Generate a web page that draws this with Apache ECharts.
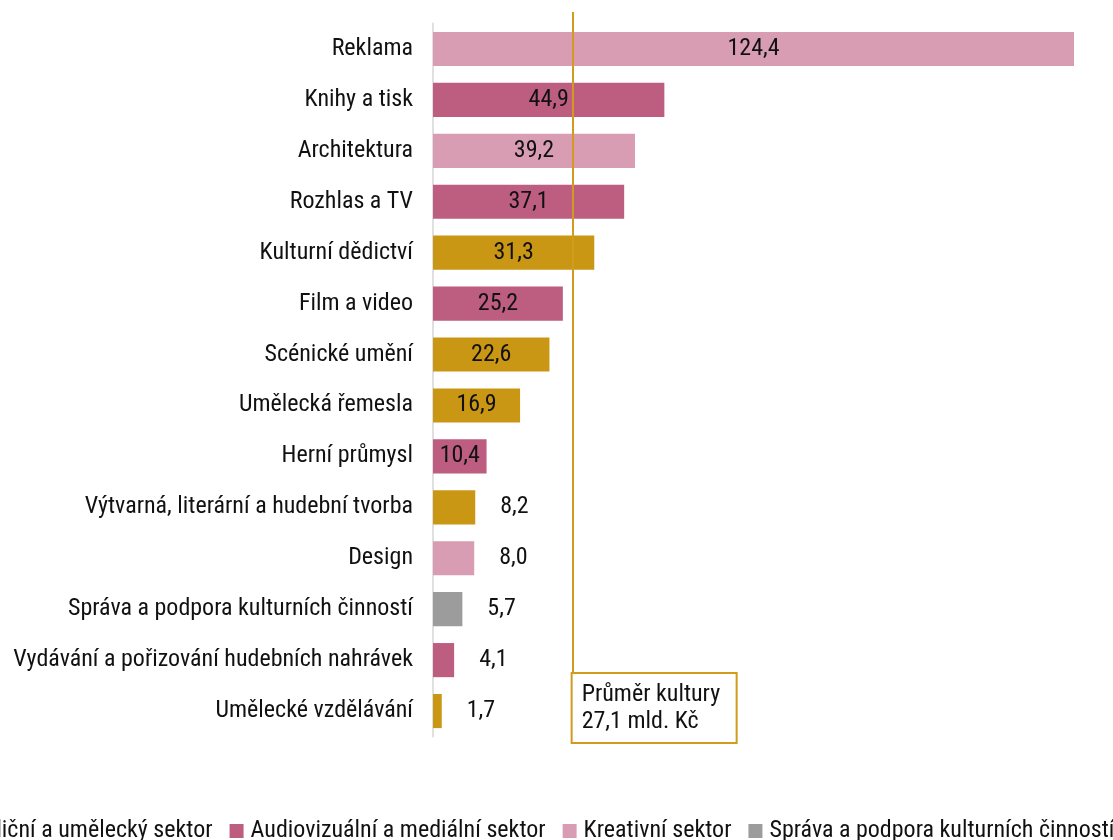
<!DOCTYPE html>
<html><head><meta charset="utf-8">
<script src="https://cdn.jsdelivr.net/npm/echarts@6/dist/echarts.min.js"></script>
<style>html,body{margin:0;padding:0;background:#fff}#c{width:1113px;height:840px}</style>
</head><body><div id="c"></div>
<script>
const categories = ['Reklama','Knihy a tisk','Architektura','Rozhlas a TV','Kulturní dědictví','Film a video','Scénické umění','Umělecká řemesla','Herní průmysl','Výtvarná, literární a hudební tvorba','Design','Správa a podpora kulturních činností','Vydávání a pořizování hudebních nahrávek','Umělecké vzdělávání'];
const values = [124.4, 44.9, 39.2, 37.1, 31.3, 25.2, 22.6, 16.9, 10.4, 8.2, 8.0, 5.7, 4.1, 1.7];
const sectorOfCategory = [2, 1, 2, 1, 0, 1, 0, 0, 1, 0, 2, 3, 1, 0];
const sectorNames = ['Tradiční a umělecký sektor','Audiovizuální a mediální sektor','Kreativní sektor','Správa a podpora kulturních činností'];
const sectorColors = ['#CA9715','#BD5E80','#D99DB3','#9C9C9C'];
const meanValue = 27.1;
const meanLabel = ['Průměr kultury', '27,1 mld. Kč'];

const FONT = "'Roboto Condensed','Liberation Sans Narrow','DejaVu Sans Condensed',Roboto,sans-serif";
const fmt = v => v.toFixed(1).replace('.', ',');

const series = sectorNames.map((name, s) => ({
  name, type: 'bar', stack: 'all', barCategoryGap: '33%',
  itemStyle: { color: sectorColors[s] },
  data: values.map((v, i) => sectorOfCategory[i] === s ? {
    value: v,
    label: v >= 10 ? { show: true, position: 'inside' } : { show: true, position: 'right', distance: 25 }
  } : null),
  label: { show: true, color: '#111', fontSize: 24, fontFamily: FONT, formatter: p => fmt(p.value) },
  markLine: s === 0 ? {
    silent: true, symbol: 'none', animation: false,
    lineStyle: { color: '#D19C1E', width: 2, type: 'solid' },
    label: {
      show: true, position: 'end', align: 'left', verticalAlign: 'top', distance: 0,
      formatter: meanLabel.join('\n'),
      color: '#111', fontSize: 24, lineHeight: 27, fontFamily: FONT,
      backgroundColor: '#fff', borderColor: '#D19C1E', borderWidth: 2,
      padding: [7, 14, 7, 9], width: 140
    },
    data: [[{ xAxis: meanValue, y: 12 }, { xAxis: meanValue, y: 674 }]]
  } : undefined
}));

const chart = echarts.init(document.getElementById('c'));
chart.setOption({
  animation: false,
  textStyle: { fontFamily: FONT },
  grid: { left: 433, right: 39, top: 23.5, bottom: 103.5 },
  xAxis: { type: 'value', min: 0, max: Math.max(...values), show: false },
  yAxis: {
    type: 'category', data: categories, inverse: true,
    axisLine: { show: true, lineStyle: { color: '#e0e0e0', width: 2 } },
    axisTick: { show: false },
    axisLabel: { color: '#111', fontSize: 24, margin: 20, fontFamily: FONT }
  },
  legend: {
    data: sectorNames, left: -66, top: 814, width: 1500,
    itemWidth: 14, itemHeight: 14, itemGap: 17, icon: 'rect',
    textStyle: { color: '#111', fontSize: 24, fontFamily: FONT, padding: [0, 0, 0, 2] }
  },
  series
});
</script></body></html>
